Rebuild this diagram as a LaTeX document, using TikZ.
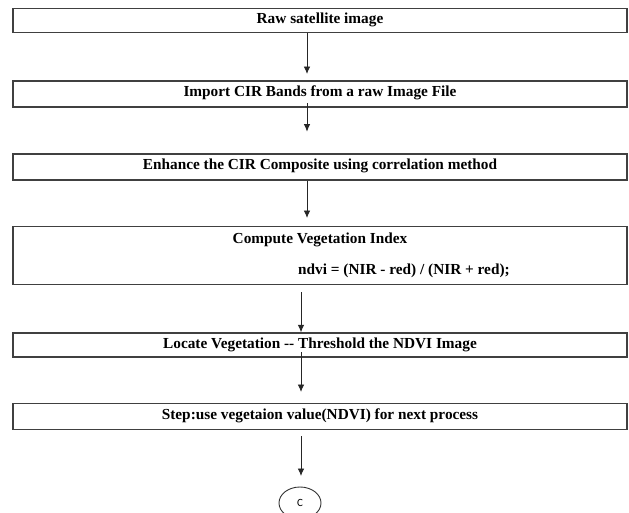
\documentclass[tikz,border=0pt]{standalone}
\usepackage{fontspec}
\setmainfont{Liberation Serif}
\newfontfamily\cfont{Carlito}
\usetikzlibrary{arrows.meta,shapes.geometric,calc}
\begin{document}
\begin{tikzpicture}[x=1pt,y=-1pt,
 box/.style={draw=black!75,line width=1.3pt,minimum width=614pt,inner sep=0pt,rectangle},
 lbl/.style={font=\fontsize{15.3}{17}\selectfont\bfseries,inner sep=0pt},
 arr/.style={draw=black!85,line width=0.9pt,-{Latex[length=7.5pt,width=6.5pt]}}]
\clip (0,0) rectangle (629,512);
\fill[white] (0,0) rectangle (629,512);
\node[box,minimum height=23.6pt] (b1) at (320,20.5) {};
\node[lbl] (t1) at (320,20) {Raw satellite image};
\node[box,minimum height=26pt] (b2) at (320,94) {};
\node[lbl] (t2) at (320,93) {Import CIR Bands from a raw Image File};
\node[box,minimum height=26pt] (b3) at (320,167) {};
\node[lbl] (t3) at (320,166) {Enhance the CIR Composite using correlation method};
\node[box,minimum height=57.6pt] (b4) at (320,255.5) {};
\node[lbl] (t4a) at (320,239.5) {Compute Vegetation Index};
\node[lbl,anchor=west] (t4b) at (298,271) {ndvi = (NIR - red) / (NIR + red);};
\node[box,minimum height=24pt] (b5) at (320,345) {};
\node[lbl] (t5) at (320,344.5) {Locate Vegetation {-}{-} Threshold the NDVI Image};
\node[box,minimum height=25.5pt] (b6) at (320,416.5) {};
\node[lbl] (t6) at (320,416) {Step:use vegetaion value(NDVI) for next process};
\node[ellipse,draw=black!80,line width=0.9pt,minimum width=42pt,minimum height=32pt,inner sep=0pt,
  font=\cfont\fontsize{11}{12}\selectfont] (c) at (300,503) {C};
\coordinate (e1) at (307,74);
\coordinate (s2) at (307,103);
\coordinate (e2) at (307,131.7);
\coordinate (e3) at (307,218);
\coordinate (s4) at (301,292);
\coordinate (s5) at (301,352);
\coordinate (e5) at (301,392);
\coordinate (s6) at (301,436);
\coordinate (e6) at (301,476);
\draw[arr] (b1.south -| e1) -- (e1);
\draw[arr] (s2) -- (e2);
\draw[arr] (b3.south -| e3) -- (e3);
\draw[arr] (s4) -- (b5.north -| s4);
\draw[arr] (s5) -- (e5);
\draw[arr] (s6) -- (e6);
\end{tikzpicture}
\end{document}
